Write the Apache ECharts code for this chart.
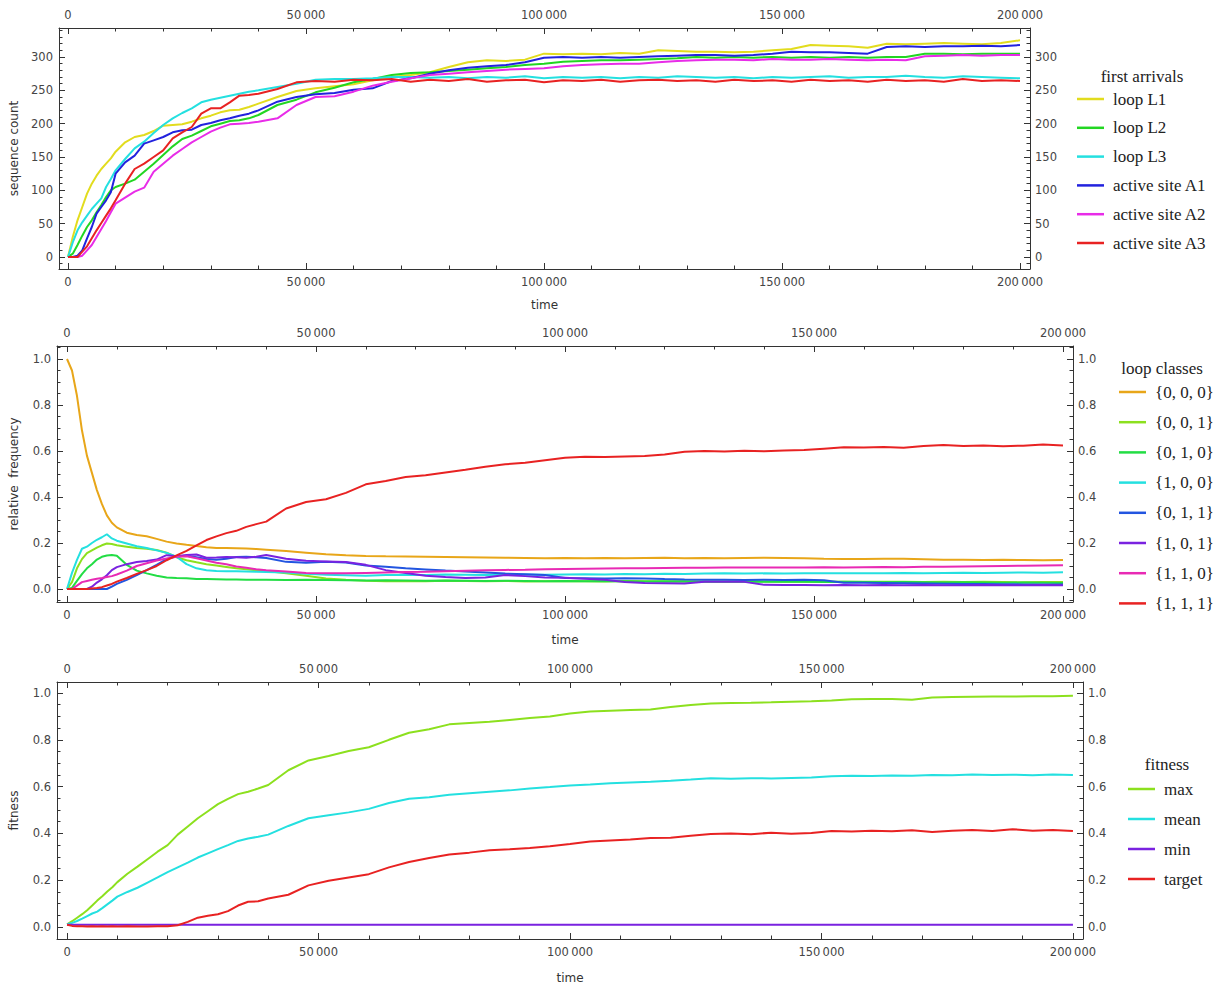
<!DOCTYPE html>
<html>
<head>
<meta charset="utf-8">
<script src="https://cdn.jsdelivr.net/npm/echarts@6/dist/echarts.min.js"></script>
<style>
html,body{margin:0;padding:0;background:#fff;}
#chart{width:1216px;height:990px;}
</style>
</head>
<body>
<div id="chart"></div>
<script>
// ---- sampling times shared by all three panels ----
const time = [
  0,1000,2000,3000,4000,5000,6000,7000,8000,9000,10000,
  12000,14000,16000,18000,20000,22000,24000,26000,28000,30000,32000,34000,36000,38000,40000,
  44000,48000,52000,56000,60000,64000,68000,72000,76000,80000,84000,88000,92000,96000,100000,
  104000,108000,112000,116000,120000,124000,128000,132000,136000,140000,144000,148000,152000,156000,160000,
  164000,168000,172000,176000,180000,184000,188000,192000,196000,200000
];

// ---- panel 1: first arrivals (sequence count) ----
const loopL1 = [
  0,30,55,75,95,110,122,132,140,148,158,
  172,180,183,189,197,198,199,203,208,212,217,220,221,225,230,
  240,249,253,256,259,265,270,273,277,285,292,295,294,296,305,
  304,305,304,306,305,310,309,308,308,307,308,310,312,318,317,
  316,314,320,319,320,321,320,319,321,325
];
const loopL2 = [
  0,5,18,32,45,55,67,78,90,100,105,
  110,116,128,140,153,166,177,182,189,196,200,204,205,208,213,
  228,236,247,254,262,267,273,276,277,279,281,283,285,288,290,
  293,294,295,295,296,297,298,300,299,300,299,300,299,300,299,
  300,299,300,300,305,305,304,305,305,305
];
const loopL3 = [
  0,22,40,52,62,72,80,88,105,117,130,
  147,163,173,186,198,208,216,223,232,236,239,242,245,248,250,
  255,260,266,267,267,268,270,270,269,270,268,270,269,271,268,
  270,269,270,268,270,269,271,270,269,270,268,270,269,270,271,
  269,270,270,272,270,269,271,270,269,268
];
const activeA1 = [
  0,0,2,10,28,45,65,75,85,97,125,
  142,152,170,175,180,187,190,191,198,201,205,208,212,215,220,
  233,240,244,246,251,253,264,268,275,280,284,286,288,292,299,
  300,299,300,299,300,301,302,303,303,302,303,305,308,307,307,
  306,305,315,316,315,316,316,317,316,318
];
const activeA2 = [
  0,0,0,2,10,18,30,42,54,67,80,
  89,98,104,128,140,152,162,172,180,188,194,199,200,201,203,
  208,228,240,241,248,257,263,268,273,275,277,279,281,282,283,
  286,288,289,290,290,292,294,295,296,296,295,297,296,296,297,
  296,295,296,295,301,302,303,302,303,303
];
const activeA3 = [
  0,0,0,8,16,28,40,51,62,73,85,
  110,132,140,150,160,178,187,195,215,223,223,232,242,243,245,
  252,262,264,263,266,265,267,263,266,264,267,263,265,266,262,
  265,264,266,263,265,266,264,265,263,266,264,265,263,266,264,
  265,263,266,264,265,263,267,264,265,264
];

// ---- panel 2: loop classes (relative frequency) ----
const cls000 = [
  1.0,0.95,0.84,0.69,0.58,0.505,0.43,0.37,0.32,0.288,0.268,
  0.245,0.235,0.229,0.218,0.206,0.198,0.192,0.187,0.182,0.178,0.178,0.177,0.176,0.174,0.171,
  0.165,0.158,0.151,0.147,0.144,0.142,0.141,0.140,0.139,0.138,0.137,0.136,0.135,0.134,0.135,
  0.134,0.135,0.134,0.135,0.136,0.134,0.135,0.134,0.135,0.136,0.135,0.134,0.131,0.130,0.130,
  0.131,0.131,0.129,0.127,0.127,0.126,0.127,0.126,0.125,0.126
];
const cls001 = [
  0,0.03,0.09,0.13,0.156,0.168,0.18,0.19,0.198,0.196,0.19,
  0.184,0.178,0.175,0.170,0.158,0.138,0.125,0.116,0.108,0.102,0.096,0.090,0.086,0.082,0.078,
  0.068,0.058,0.046,0.040,0.036,0.034,0.035,0.034,0.036,0.035,0.034,0.035,0.033,0.034,0.035,
  0.034,0.033,0.035,0.034,0.033,0.034,0.033,0.032,0.034,0.033,0.032,0.033,0.032,0.031,0.032,
  0.031,0.032,0.030,0.031,0.030,0.031,0.030,0.029,0.030,0.030
];
const cls010 = [
  0,0.005,0.035,0.065,0.09,0.108,0.128,0.14,0.146,0.148,0.145,
  0.105,0.08,0.068,0.058,0.05,0.048,0.047,0.044,0.043,0.042,0.041,0.041,0.04,0.04,0.04,
  0.039,0.04,0.039,0.038,0.037,0.038,0.037,0.036,0.037,0.036,0.035,0.036,0.035,0.034,0.035,
  0.034,0.035,0.034,0.033,0.034,0.033,0.032,0.033,0.032,0.031,0.032,0.031,0.030,0.031,0.030,
  0.029,0.030,0.029,0.028,0.029,0.028,0.027,0.028,0.027,0.026
];
const cls100 = [
  0,0.07,0.127,0.175,0.184,0.2,0.214,0.225,0.238,0.22,0.21,
  0.198,0.186,0.178,0.168,0.157,0.14,0.108,0.09,0.082,0.078,0.077,0.077,0.076,0.075,0.074,
  0.072,0.066,0.062,0.060,0.058,0.061,0.062,0.061,0.063,0.062,0.061,0.062,0.063,0.062,0.063,
  0.064,0.063,0.065,0.064,0.066,0.065,0.067,0.068,0.067,0.068,0.067,0.069,0.068,0.069,0.068,
  0.069,0.070,0.069,0.070,0.071,0.070,0.071,0.072,0.071,0.073
];
const cls011 = [
  0,0,0,0,0,0,0,0,0,0.01,0.022,
  0.04,0.06,0.082,0.105,0.13,0.142,0.145,0.138,0.13,0.127,0.132,0.139,0.14,0.138,0.135,
  0.118,0.114,0.118,0.115,0.102,0.097,0.09,0.085,0.08,0.076,0.072,0.067,0.064,0.061,0.048,
  0.047,0.046,0.047,0.046,0.043,0.041,0.04,0.04,0.039,0.04,0.039,0.04,0.038,0.027,0.027,
  0.026,0.025,0.024,0.023,0.022,0.022,0.021,0.020,0.020,0.020
];
const cls101 = [
  0,0,0,0,0,0.01,0.028,0.042,0.06,0.082,0.095,
  0.108,0.117,0.122,0.128,0.147,0.142,0.148,0.15,0.136,0.137,0.139,0.138,0.136,0.14,0.148,
  0.132,0.123,0.12,0.117,0.105,0.082,0.07,0.058,0.052,0.048,0.05,0.061,0.056,0.05,0.049,
  0.045,0.04,0.03,0.026,0.025,0.024,0.032,0.032,0.031,0.018,0.017,0.017,0.016,0.017,0.016,
  0.017,0.016,0.017,0.016,0.016,0.017,0.016,0.016,0.017,0.016
];
const cls110 = [
  0,0,0.015,0.03,0.035,0.04,0.045,0.048,0.052,0.056,0.063,
  0.08,0.1,0.112,0.124,0.133,0.14,0.142,0.134,0.124,0.114,0.108,0.098,0.092,0.086,0.082,
  0.076,0.07,0.068,0.068,0.07,0.072,0.074,0.075,0.077,0.079,0.081,0.083,0.084,0.086,0.087,
  0.088,0.089,0.09,0.09,0.091,0.092,0.092,0.093,0.093,0.094,0.093,0.094,0.095,0.094,0.095,
  0.096,0.095,0.097,0.097,0.098,0.099,0.100,0.101,0.102,0.103
];
const cls111 = [
  0,0,0,0,0,0.002,0.004,0.008,0.015,0.022,0.032,
  0.048,0.066,0.082,0.1,0.125,0.146,0.166,0.19,0.213,0.229,0.243,0.253,0.27,0.282,0.293,
  0.35,0.378,0.39,0.418,0.455,0.47,0.487,0.495,0.507,0.518,0.532,0.542,0.549,0.56,0.571,
  0.575,0.574,0.576,0.578,0.585,0.597,0.6,0.598,0.601,0.599,0.602,0.604,0.61,0.616,0.615,
  0.617,0.614,0.622,0.626,0.622,0.624,0.621,0.623,0.628,0.624
];

// ---- panel 3: fitness ----
const fitMax = [
  0.012,0.025,0.04,0.055,0.072,0.092,0.113,0.132,0.152,0.17,0.192,
  0.228,0.258,0.29,0.322,0.35,0.395,0.43,0.465,0.495,0.525,0.548,0.568,0.578,0.592,0.607,
  0.67,0.712,0.731,0.752,0.768,0.8,0.83,0.845,0.866,0.872,0.877,0.885,0.893,0.9,0.912,
  0.921,0.924,0.927,0.93,0.94,0.949,0.955,0.957,0.958,0.96,0.963,0.965,0.968,0.973,0.974,
  0.974,0.971,0.981,0.983,0.984,0.985,0.985,0.986,0.986,0.988
];
const fitMean = [
  0.012,0.018,0.026,0.036,0.047,0.058,0.066,0.081,0.097,0.113,0.13,
  0.15,0.168,0.19,0.212,0.235,0.255,0.275,0.297,0.315,0.333,0.35,0.368,0.378,0.386,0.395,
  0.432,0.465,0.478,0.49,0.505,0.53,0.548,0.555,0.565,0.572,0.578,0.584,0.592,0.598,0.605,
  0.609,0.614,0.618,0.621,0.625,0.63,0.636,0.634,0.636,0.635,0.637,0.639,0.644,0.646,0.645,
  0.648,0.646,0.65,0.649,0.652,0.65,0.651,0.649,0.652,0.65
];
const fitMin = [
  0.01,0.01,0.01,0.01,0.01,0.01,0.01,0.01,0.01,0.01,0.01,
  0.01,0.01,0.01,0.01,0.01,0.01,0.01,0.01,0.01,0.01,0.01,0.01,0.01,0.01,0.01,
  0.01,0.01,0.01,0.01,0.01,0.01,0.01,0.01,0.01,0.01,0.01,0.01,0.01,0.01,0.01,
  0.01,0.01,0.01,0.01,0.01,0.01,0.01,0.01,0.01,0.01,0.01,0.01,0.01,0.01,0.01,
  0.01,0.01,0.01,0.01,0.01,0.01,0.01,0.01,0.01,0.01
];
const fitTarget = [
  0.01,0.005,0.003,0.003,0.002,0.003,0.002,0.003,0.002,0.003,0.002,
  0.003,0.002,0.002,0.004,0.003,0.008,0.022,0.04,0.048,0.055,0.068,0.092,0.108,0.11,0.122,
  0.138,0.178,0.198,0.212,0.226,0.255,0.278,0.295,0.31,0.318,0.328,0.332,0.338,0.345,0.355,
  0.366,0.37,0.374,0.38,0.382,0.39,0.398,0.4,0.397,0.403,0.399,0.402,0.41,0.408,0.412,
  0.409,0.414,0.406,0.412,0.415,0.41,0.418,0.412,0.415,0.41
];

// ---- tick values ----
const timeTicks = [0, 50000, 100000, 150000, 200000];
const timeMinorTicks = [10000,20000,30000,40000,60000,70000,80000,90000,110000,120000,130000,140000,160000,170000,180000,190000];
const countTicks = [0, 50, 100, 150, 200, 250, 300];
const countMinorTicks = [-10,10,20,30,40,60,70,80,90,110,120,130,140,160,170,180,190,210,220,230,240,260,270,280,290,310,320,330,340];
const fracTicks = [0, 0.2, 0.4, 0.6, 0.8, 1.0];
const fracMinorTicks = [-0.05,0.05,0.1,0.15,0.25,0.3,0.35,0.45,0.5,0.55,0.65,0.7,0.75,0.85,0.9,0.95,1.05];

// ---- styling ----
const FRAME = '#333';
const LABEL = '#454545';
const SANS = '"DejaVu Sans", "Liberation Sans", sans-serif';
const SERIF = '"Liberation Serif", "DejaVu Serif", serif';

const fmtTime = v => {
  if (v === 0) return '0';
  const s = String(v);
  return s.slice(0, s.length - 3) + '\u2009' + s.slice(-3);
};
const fmtCount = v => String(v);
const fmtFrac = v => v.toFixed(1);

const panels = [
  {
    grid: {left: 59, top: 28, width: 971, height: 241},
    xMin: -1890, xMax: 202100, yMin: -18, yMax: 343.5,
    yTicks: countTicks, yMinor: countMinorTicks, yFmt: fmtCount,
    yName: 'sequence count', yNameGap: 39, xNameGap: 30,
    lines: [
      ['loop L1', '#E2DC1E', loopL1],
      ['loop L2', '#22D622', loopL2],
      ['loop L3', '#24E0E0', loopL3],
      ['active site A1', '#2222DE', activeA1],
      ['active site A2', '#E82CE8', activeA2],
      ['active site A3', '#E82222', activeA3]
    ]
  },
  {
    grid: {left: 57, top: 346, width: 1016, height: 256},
    xMin: -2010, xMax: 202010, yMin: -0.0565, yMax: 1.0565,
    yTicks: fracTicks, yMinor: fracMinorTicks, yFmt: fmtFrac,
    yName: 'relative  frequency', yNameGap: 37, xNameGap: 32,
    lines: [
      ['{0, 0, 0}', '#E8A619', cls000],
      ['{0, 0, 1}', '#8CE01E', cls001],
      ['{0, 1, 0}', '#22DD44', cls010],
      ['{1, 0, 0}', '#24E0E0', cls100],
      ['{0, 1, 1}', '#2255E0', cls011],
      ['{1, 0, 1}', '#7A22E0', cls101],
      ['{1, 1, 0}', '#E82AB4', cls110],
      ['{1, 1, 1}', '#E82222', cls111]
    ]
  },
  {
    grid: {left: 57, top: 682, width: 1026, height: 257},
    xMin: -2000, xMax: 202000, yMin: -0.051, yMax: 1.047,
    yTicks: fracTicks, yMinor: fracMinorTicks, yFmt: fmtFrac,
    yName: 'fitness', yNameGap: 37, xNameGap: 33,
    lines: [
      ['max', '#8CE01E', fitMax],
      ['mean', '#24E0E0', fitMean],
      ['min', '#7A22E0', fitMin],
      ['target', '#E82222', fitTarget]
    ]
  }
];

const grids = [], xAxes = [], yAxes = [], series = [];
const labelStyle = {color: LABEL, fontFamily: SANS, fontSize: 11.5};
const nameStyle = {color: '#333', fontFamily: SANS, fontSize: 12};

panels.forEach((p, gi) => {
  grids.push(Object.assign({outerBoundsMode: 'none', containLabel: false}, p.grid));
  const xi = xAxes.length, yi = yAxes.length;
  const inRange = (arr, lo, hi) => arr.filter(v => v > lo && v < hi);
  const xMinor = inRange(timeMinorTicks, p.xMin, p.xMax);
  const yMinor = inRange(p.yMinor, p.yMin, p.yMax);

  ['bottom', 'top'].forEach(pos => {
    xAxes.push({
      gridIndex: gi, type: 'value', position: pos, min: p.xMin, max: p.xMax,
      splitLine: {show: false},
      axisLine: {show: true, onZero: false, lineStyle: {color: FRAME, width: 1}},
      axisTick: {show: true, inside: true, length: 6, customValues: timeTicks, lineStyle: {color: FRAME}},
      axisLabel: Object.assign({show: true, customValues: timeTicks, formatter: fmtTime, margin: 7}, labelStyle),
      name: pos === 'bottom' ? 'time' : '',
      nameLocation: 'middle', nameGap: p.xNameGap, nameTextStyle: nameStyle
    });
  });
  ['bottom', 'top'].forEach(pos => {
    xAxes.push({
      gridIndex: gi, type: 'value', position: pos, min: p.xMin, max: p.xMax,
      splitLine: {show: false},
      axisLine: {show: false, onZero: false},
      axisTick: {show: true, inside: true, length: 3.5, customValues: xMinor, lineStyle: {color: FRAME}},
      axisLabel: {show: false}
    });
  });
  ['left', 'right'].forEach(pos => {
    yAxes.push({
      gridIndex: gi, type: 'value', position: pos, min: p.yMin, max: p.yMax,
      splitLine: {show: false},
      axisLine: {show: true, onZero: false, lineStyle: {color: FRAME, width: 1}},
      axisTick: {show: true, inside: true, length: 6, customValues: p.yTicks, lineStyle: {color: FRAME}},
      axisLabel: Object.assign({show: true, customValues: p.yTicks, formatter: p.yFmt, margin: pos === 'left' ? 6 : 5}, labelStyle),
      name: pos === 'left' ? p.yName : '',
      nameLocation: 'middle', nameGap: p.yNameGap, nameRotate: 90, nameTextStyle: nameStyle
    });
  });
  ['left', 'right'].forEach(pos => {
    yAxes.push({
      gridIndex: gi, type: 'value', position: pos, min: p.yMin, max: p.yMax,
      splitLine: {show: false},
      axisLine: {show: false, onZero: false},
      axisTick: {show: true, inside: true, length: 3.5, customValues: yMinor, lineStyle: {color: FRAME}},
      axisLabel: {show: false}
    });
  });

  p.lines.forEach(([name, color, values]) => {
    series.push({
      name, type: 'line', xAxisIndex: xi, yAxisIndex: yi,
      data: time.map((t, i) => [t, values[i]]),
      showSymbol: false, symbol: 'none', color,
      lineStyle: {width: 2, color},
      itemStyle: {color},
      emphasis: {disabled: true}, silent: true, animation: false
    });
  });
});

const legendText = {fontFamily: SERIF, fontSize: 17, color: '#222', lineHeight: 20, padding: [0, 0, 0, 4]};
const legendBase = {
  orient: 'vertical', icon: 'rect', itemWidth: 27, itemHeight: 2.5,
  selectedMode: false, textStyle: legendText, padding: 0
};
const legends = [
  Object.assign({data: panels[0].lines.map(l => l[0]), left: 1077, top: 89, itemGap: 8.8}, legendBase),
  Object.assign({data: panels[1].lines.map(l => l[0]), left: 1119, top: 382, itemGap: 10.2}, legendBase),
  Object.assign({data: panels[2].lines.map(l => l[0]), left: 1128, top: 779, itemGap: 10}, legendBase)
];

const legendTitle = (text, x, y) => ({
  type: 'text', x, y, silent: true,
  style: {text, align: 'center', verticalAlign: 'middle', font: '17px ' + SERIF, fill: '#222'}
});

const chart = echarts.init(document.getElementById('chart'), null, {renderer: 'svg'});
chart.setOption({
  animation: false,
  backgroundColor: '#fff',
  grid: grids,
  xAxis: xAxes,
  yAxis: yAxes,
  legend: legends,
  graphic: [
    legendTitle('first arrivals', 1142, 76),
    legendTitle('loop classes', 1162, 368),
    legendTitle('fitness', 1167, 764)
  ],
  series
});
</script>
</body>
</html>
